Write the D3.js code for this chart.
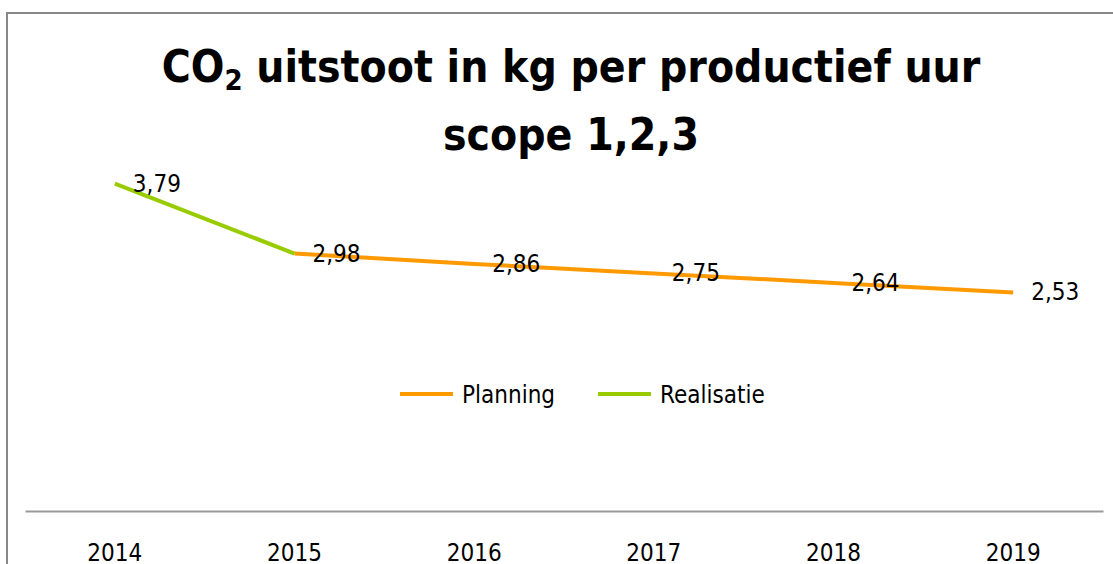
<!DOCTYPE html>
<html>
<head>
<meta charset="utf-8">
<script src="https://cdn.jsdelivr.net/npm/d3@7"></script>
<style>
  body { margin: 0; background: #fff; overflow: hidden; }
  svg { display: block; font-family: "DejaVu Sans Condensed", "DejaVu Sans", sans-serif; font-stretch: condensed; }
</style>
</head>
<body>
<div id="chart"></div>
<script>
// Data
const years = ["2014", "2015", "2016", "2017", "2018", "2019"];
const planning = [null, 2.98, 2.86, 2.75, 2.64, 2.53];
const realisatie = [3.79, 2.98, null, null, null, null];
const seriesNames = ["Planning", "Realisatie"];
const seriesColors = ["#ff9900", "#99cc00"];

const W = 1113, H = 564;

const svg = d3.select("#chart")
    .append("svg")
    .attr("width", W)
    .attr("height", H);

// Chart frame (runs off the right and bottom edge)
svg.append("rect")
    .attr("x", 7)
    .attr("y", 13)
    .attr("width", W + 20)
    .attr("height", H + 20)
    .attr("fill", "none")
    .attr("stroke", "#888")
    .attr("stroke-width", 2);

// Scales
const x = d3.scaleBand()
    .domain(years)
    .range([25, 1103]);

const y = d3.scaleLinear()
    .domain([0, 4])
    .range([511, 511 - 4 * 86.4]);

const cx = d => x(d) + x.bandwidth() / 2;

// X axis
const xAxis = svg.append("g")
    .attr("transform", "translate(0,511)")
    .call(d3.axisBottom(x).tickSize(0).tickSizeOuter(0).tickPadding(27));
xAxis.attr("font-family", null).attr("font-size", null);
xAxis.select(".domain").attr("stroke", "#999").attr("stroke-width", 2);
xAxis.selectAll("text")
    .attr("font-size", 24)
    .attr("fill", "#000")
    .attr("dy", "0.95em");

// Lines
const series = [planning, realisatie];
const line = d3.line()
    .defined(d => d.v != null)
    .x(d => cx(d.year))
    .y(d => y(d.v));

series.forEach((vals, i) => {
    const pts = years.map((yr, j) => ({ year: yr, v: vals[j] }));
    svg.append("path")
        .datum(pts)
        .attr("fill", "none")
        .attr("stroke", seriesColors[i])
        .attr("stroke-width", 4)
        .attr("d", line);
});

// Data labels (skip duplicates where both series share a value)
const labels = [];
years.forEach((yr, j) => {
    const v = planning[j] != null ? planning[j] : realisatie[j];
    if (v != null) labels.push({ year: yr, v });
});
svg.selectAll(".lbl")
    .data(labels)
    .enter()
    .append("text")
    .attr("class", "lbl")
    .attr("x", d => cx(d.year) + 18)
    .attr("y", d => y(d.v) + 8)
    .attr("font-size", 24)
    .attr("fill", "#000")
    .text(d => d.v.toFixed(2).replace(".", ","));

// Title
const title = svg.append("text")
    .attr("text-anchor", "middle")
    .attr("font-weight", "bold")
    .attr("font-size", 44)
    .attr("fill", "#000");
const t1 = title.append("tspan").attr("x", 571).attr("y", 82);
t1.append("tspan").text("CO");
t1.append("tspan").attr("font-size", 29).attr("dy", 8).text("2");
t1.append("tspan").attr("dy", -8).text(" uitstoot in kg per productief uur");
title.append("tspan").attr("x", 571).attr("y", 150).text("scope 1,2,3");

// Legend
const legendX = [400, 598];
const legend = svg.selectAll(".leg")
    .data(seriesNames)
    .enter()
    .append("g")
    .attr("class", "leg")
    .attr("transform", (d, i) => `translate(${legendX[i]},394)`);
legend.append("line")
    .attr("x1", 0).attr("x2", 53)
    .attr("y1", 0).attr("y2", 0)
    .attr("stroke", (d, i) => seriesColors[i])
    .attr("stroke-width", 4);
legend.append("text")
    .attr("x", 62)
    .attr("y", 9)
    .attr("font-size", 24)
    .attr("fill", "#000")
    .text(d => d);
</script>
</body>
</html>
